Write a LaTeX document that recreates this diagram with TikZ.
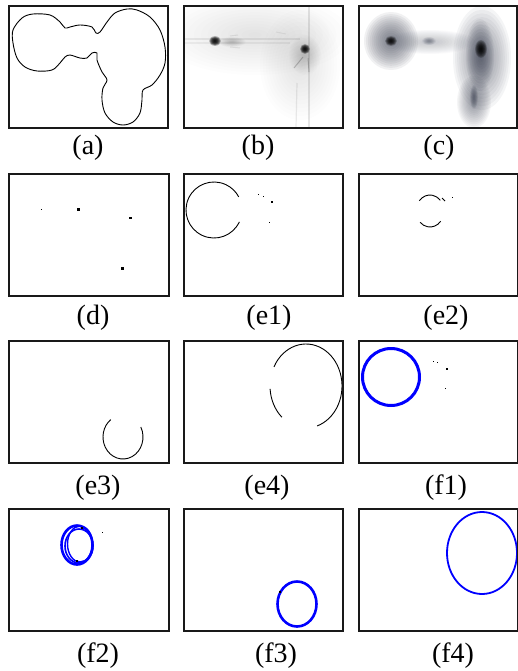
\documentclass[tikz,border=0pt]{standalone}
\usepackage{fontspec}
\setmainfont{Liberation Serif}
\definecolor{cgray}{rgb}{0.28,0.30,0.36}
\definecolor{pblue}{rgb}{0,0,1}
% stacked soft blob: x, y, rx, ry, opacity per layer, colour
\newcommand\gblob[6]{\foreach \k in {1,...,14}{\fill[#6, opacity=#5] (#1,#2) ellipse ({#3*\k/14} and {#4*\k/14});}}
\begin{document}
\begin{tikzpicture}[x=1pt,y=-1pt,
  panel/.style={draw=black!90, line width=1.3pt},
  lbl/.style={font=\fontsize{28}{30}\selectfont, inner sep=0pt, anchor=center},
  curve/.style={draw=black, line width=0.9pt},
  streak/.style={draw=black, line width=1.2pt},
  ring/.style={draw=pblue, line width=2.6pt}]
\useasboundingbox (0,0) rectangle (518,671);
\fill[white] (0,0) rectangle (518,671);

% ---------- (a)
\draw[curve] plot[smooth cycle, tension=0.55] coordinates {
 (33,14) (50,15) (60,22) (65,28) (70,27) (80,25) (92,27) (96,33) (100,32)
 (107,22) (115,13) (127,9) (137,10) (150,17) (160,30) (165,47) (165,63)
 (160,75) (152,85) (143,90) (142,100) (140,113) (133,122) (123,125)
 (113,122) (105,113) (102,100) (103,88) (107,80) (102,72) (97,60) (97,53)
 (92,53) (87,58) (80,58) (70,55) (65,57) (60,63) (52,70) (37,71) (25,67)
 (17,58) (13,43) (13,30) (22,18)};
\draw[panel] (9,6) rectangle (168,128);

% ---------- (b)
\begin{scope}
\clip (184,6) rectangle (343,128);
\gblob{255}{35}{95}{40}{0.006}{black}
\gblob{300}{65}{40}{55}{0.008}{black}
\gblob{305}{55}{16}{20}{0.012}{black}
\draw[streak, opacity=0.07] (184,39) -- (300,39);
\draw[streak, opacity=0.05] (184,43) -- (290,43);
\draw[streak, opacity=0.10, line width=1.5pt] (309,6) -- (309,128);
\draw[streak, opacity=0.08] (297,83) -- (296,128);
\draw[streak, opacity=0.20, line width=1pt] (303,57) -- (294,68);
\draw[streak, opacity=0.18, line width=1pt] (308,58) -- (309,72);
\draw[streak, opacity=0.08, line width=1pt] (230,36) -- (238,35);
\draw[streak, opacity=0.08, line width=1pt] (230,47) -- (240,48);
\draw[streak, opacity=0.06, line width=1pt] (276,32) -- (286,34);
\gblob{232}{42}{14}{5}{0.015}{black}
\gblob{215}{41}{6}{5}{0.17}{black}
\gblob{305}{49}{5}{5}{0.17}{black}
\end{scope}
\draw[panel] (184,6) rectangle (343,128);

% ---------- (c)
\begin{scope}
\clip (359,6) rectangle (517,128);
\gblob{430}{42}{45}{12}{0.025}{cgray}
\gblob{391}{41}{27}{29}{0.075}{cgray}
\gblob{391}{41}{6}{5}{0.14}{black}
\gblob{429}{41}{7}{4}{0.05}{cgray}
\gblob{474}{102}{17}{26}{0.05}{cgray}
\gblob{482}{58}{29}{52}{0.055}{cgray}
\gblob{480}{55}{14}{36}{0.07}{cgray}
\gblob{481}{49}{6}{9}{0.15}{black}
\gblob{474}{97}{4}{12}{0.07}{cgray}
\end{scope}
\draw[panel] (359,6) rectangle (517,128);

% ---------- (d)
\fill (40.5,208.5) rectangle (41.5,209.5);
\fill (76.5,208) rectangle (79.5,210.5);
\fill (128.5,217.3) rectangle (131.5,218.7);
\fill (121,267) rectangle (123.5,269.5);
\draw[panel] (9,174) rectangle (169,296);

% ---------- (e1)
\draw[curve] (214,210) ++(25:28) arc[start angle=25, end angle=332, radius=28];
\fill (257.5,193.5) rectangle (258.5,194.5);
\fill (262.5,195.5) rectangle (263.5,196.5);
\fill (271,201) rectangle (273,203);
\fill (268.5,221.5) rectangle (270,223);
\draw[panel] (184,174) rectangle (343,296);

% ---------- (e2)
\draw[curve] (430,211) ++(220:14 and 16) arc[start angle=220, end angle=318, x radius=14, y radius=16];
\draw[curve] (430,211) ++(40:14 and 16) arc[start angle=40, end angle=135, x radius=14, y radius=16];
\draw[curve] (442,198) -- (445,201);
\fill (451.5,196.5) rectangle (453,198);
\draw[panel] (359,174) rectangle (518,296);

% ---------- (e3)
\draw[curve] (123,437) ++(-27:20 and 22) arc[start angle=-27, end angle=232, x radius=20, y radius=22];
\draw[panel] (9,341) rectangle (169,463);

% ---------- (e4)
\draw[curve] (306,386) ++(207:36 and 42) arc[start angle=207, end angle=432, x radius=36, y radius=42];
\draw[curve] (306,386) ++(176:36 and 42) arc[start angle=176, end angle=132, x radius=36, y radius=42];
\draw[panel] (184,341) rectangle (343,463);

% ---------- (f1)
\draw[ring, line width=3pt] (391,377) ellipse (28.5 and 28.5);
\fill (432.5,360.5) rectangle (433.5,361.5);
\fill (436.5,361.5) rectangle (437.5,362.5);
\fill (446,368) rectangle (448,370);
\fill (444.5,387.5) rectangle (445.5,388.5);
\draw[panel] (359,341) rectangle (518,463);

% ---------- (f2)
\draw[ring, line width=2.6pt] (77,545) ellipse (15.5 and 19.5);
\draw[ring, line width=1.4pt] (80,544) ellipse (12.5 and 18);
\draw[ring, line width=1.6pt] (79,546) ellipse (14 and 17);
\fill (81,527) rectangle (83,529);
\fill (76,560) rectangle (78,562);
\fill (101.5,531.5) rectangle (102.5,532.5);
\draw[panel] (9,509) rectangle (169,631);

% ---------- (f3)
\draw[ring, line width=2.6pt] (297,604) ellipse (19.5 and 22.5);
\fill (279,591) rectangle (281,593);
\draw[panel] (184,509) rectangle (343,631);

% ---------- (f4)
\draw[ring, line width=1.8pt] (482,553) ellipse (35 and 41);
\draw[panel] (359,509) rectangle (518,631);

% ---------- labels
\node[lbl] (la) at (88,148) {(a)};
\node[lbl] (lb) at (258,148) {(b)};
\node[lbl] (lc) at (439,148) {(c)};
\node[lbl] (ld) at (93,318) {(d)};
\node[lbl] (le1) at (269,318) {(e1)};
\node[lbl] (le2) at (446,318) {(e2)};
\node[lbl] (le3) at (98,488) {(e3)};
\node[lbl] (le4) at (267,488) {(e4)};
\node[lbl] (lf1) at (446,488) {(f1)};
\node[lbl] (lf2) at (98,656) {(f2)};
\node[lbl] (lf3) at (276,656) {(f3)};
\node[lbl] (lf4) at (453,656) {(f4)};
\end{tikzpicture}
\end{document}
